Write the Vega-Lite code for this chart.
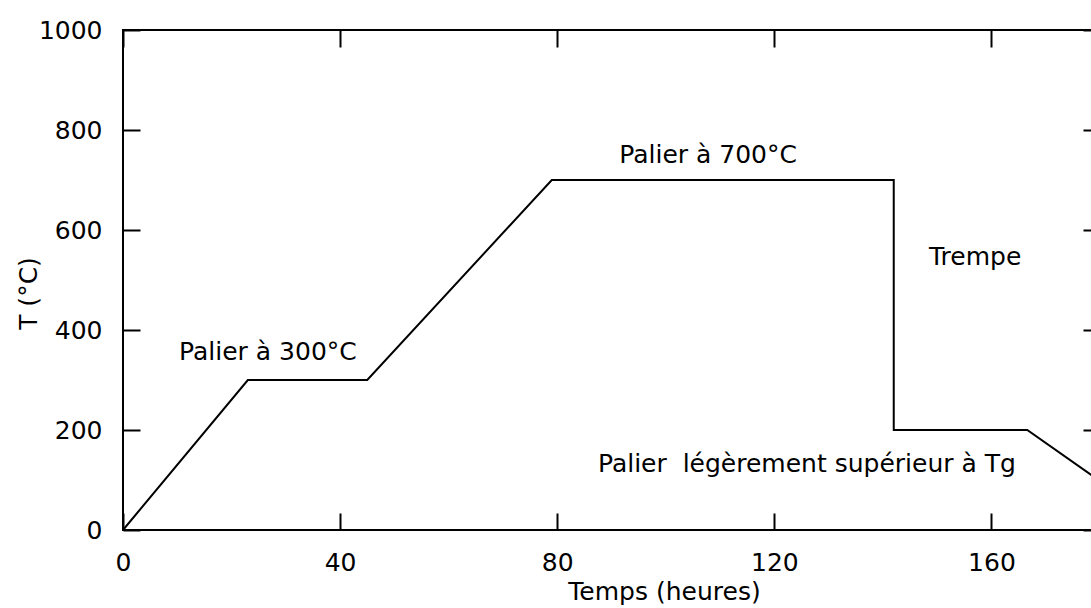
{
  "$schema": "https://vega.github.io/schema/vega-lite/v6.json",
  "autosize": {"type": "none"},
  "padding": {"left": 123, "top": 30, "right": 0, "bottom": 78},
  "width": 977,
  "height": 500,
  "background": "white",
  "config": {
    "view": {"stroke": "black", "strokeWidth": 2},
    "font": "DejaVu Sans",
    "axis": {
      "grid": false,
      "domain": false,
      "tickColor": "black",
      "tickWidth": 2,
      "tickSize": -17,
      "labelFont": "DejaVu Sans",
      "labelFontSize": 25,
      "labelColor": "black",
      "titleFont": "DejaVu Sans",
      "titleFontSize": 25,
      "titleFontWeight": "normal",
      "titleColor": "black"
    }
  },
  "datasets": {
    "profile": [
      {"t": 0, "T": 0},
      {"t": 23, "T": 300},
      {"t": 45, "T": 300},
      {"t": 79, "T": 700},
      {"t": 142, "T": 700},
      {"t": 142, "T": 200},
      {"t": 166.6, "T": 200},
      {"t": 180, "T": 98}
    ],
    "notes": [
      {"t": 26.7, "T": 340, "label": "Palier à 300°C"},
      {"t": 107.8, "T": 734, "label": "Palier à 700°C"},
      {"t": 157, "T": 530, "label": "Trempe"},
      {"t": 126, "T": 116, "label": "Palier\u00a0 légèrement supérieur à Tg"}
    ]
  },
  "layer": [
    {
      "data": {"name": "profile"},
      "mark": {"type": "line", "color": "black", "strokeWidth": 2},
      "encoding": {
        "x": {
          "field": "t", "type": "quantitative",
          "scale": {"domain": [0, 180], "nice": false, "zero": false},
          "axis": {
            "orient": "bottom", "values": [0, 40, 80, 120, 160], "format": "d",
            "labelPadding": 37, "labelBaseline": "top", "labelFlush": false,
            "title": "Temps (heures)", "titleX": 541, "titleY": 69,
            "titleBaseline": "alphabetic", "titleAlign": "center"
          }
        },
        "y": {
          "field": "T", "type": "quantitative",
          "scale": {"domain": [0, 1000], "nice": false},
          "axis": {
            "orient": "left", "values": [0, 200, 400, 600, 800, 1000], "format": "d",
            "labelPadding": 38, "labelFlush": false, "labelBaseline": "middle",
            "title": "T (°C)", "titleX": -95, "titleY": 263,
            "titleAngle": -90, "titleAlign": "center", "titleBaseline": "middle"
          }
        }
      }
    },
    {
      "data": {"name": "notes"},
      "mark": {"type": "text", "font": "DejaVu Sans", "fontSize": 25, "color": "black", "align": "center", "baseline": "alphabetic"},
      "encoding": {
        "x": {
          "field": "t", "type": "quantitative",
          "axis": {"orient": "top", "values": [0, 40, 80, 120, 160], "labels": false, "title": null}
        },
        "y": {
          "field": "T", "type": "quantitative",
          "axis": {"orient": "right", "values": [0, 200, 400, 600, 800, 1000], "labels": false, "title": null}
        },
        "text": {"field": "label"}
      }
    }
  ]
}
